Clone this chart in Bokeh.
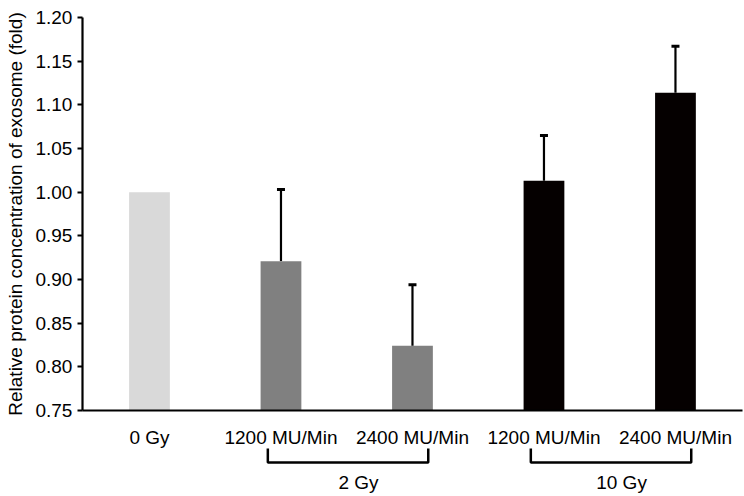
import math
from bokeh.plotting import figure
from bokeh.models import (Range1d, FixedTicker, Whisker, TeeHead, ColumnDataSource,
                          NumeralTickFormatter)
from bokeh.core.properties import value
from bokeh.embed import file_html
from bokeh.resources import INLINE

# ---- data ----
categories = ["0 Gy", "1200 MU/Min", "2400 MU/Min", "1200 MU/Min", "2400 MU/Min"]
means = [1.000, 0.921, 0.824, 1.013, 1.114]
errors = [0.0, 0.082, 0.070, 0.052, 0.053]
bar_colors = ["#d9d9d9", "#808080", "#808080", "#050000", "#050000"]
group_names = ["2 Gy", "10 Gy"]
group_members = [[1, 2], [3, 4]]
y_ticks = [0.75, 0.80, 0.85, 0.90, 0.95, 1.00, 1.05, 1.10, 1.15, 1.20]
y_label = "Relative protein concentration of exosome (fold)"

FONT = "Liberation Sans"
BASE = y_ticks[0]
TOP = y_ticks[-1]
X_LEFT, X_RIGHT = -0.51, len(categories) - 0.49

idx = list(range(len(categories)))

p = figure(width=744, height=496, output_backend="svg", toolbar_location=None,
           x_range=Range1d(-1.133, 4.525),
           y_range=Range1d(0.6515, 1.2195),
           min_border_left=0, min_border_right=0, min_border_top=0, min_border_bottom=0)
p.outline_line_color = None
p.grid.visible = False
p.background_fill_color = "white"

# bars
src = ColumnDataSource(dict(x=idx, top=means, color=bar_colors))
p.vbar(x="x", top="top", bottom=BASE, width=0.31, fill_color="color", line_color=None, source=src)

# error bars (upper only)
ex = [i for i, e in zip(idx, errors) if e > 0]
esrc = ColumnDataSource(dict(x=ex,
                             lower=[means[i] for i in ex],
                             upper=[means[i] + errors[i] for i in ex]))
w = Whisker(base="x", lower="lower", upper="upper", source=esrc, dimension="height",
            line_color="black", line_width=2.2,
            upper_head=TeeHead(size=8, line_width=3, line_color="black"), lower_head=None)
p.add_layout(w)

# y axis, fixed at the left end of the x axis
ya = p.yaxis[0]
ya.fixed_location = X_LEFT
ya.bounds = (BASE, TOP)
ya.ticker = FixedTicker(ticks=y_ticks)
ya.formatter = NumeralTickFormatter(format="0.00")
ya.axis_line_width = 2.2
ya.major_tick_line_width = 2
ya.major_tick_out = 5
ya.major_tick_in = 0
ya.minor_tick_line_color = None
ya.major_label_text_font = FONT
ya.major_label_text_font_size = "19px"
ya.major_label_text_color = "black"
ya.major_label_standoff = 5

# y axis title, centred on the axis bounds
p.text(x=[X_LEFT], y=[(BASE + TOP) / 2], text=[y_label], x_offset=-67, angle=math.pi / 2,
       text_align="center", text_baseline="middle", text_font=value(FONT),
       text_font_size="19px", text_color="black")

# x axis at the base value
xa = p.xaxis[0]
xa.fixed_location = BASE
xa.bounds = (X_LEFT, X_RIGHT)
xa.ticker = FixedTicker(ticks=idx)
xa.major_label_overrides = {i: c for i, c in zip(idx, categories)}
xa.axis_line_width = 2.2
xa.major_tick_line_color = None
xa.major_tick_out = 0
xa.major_tick_in = 0
xa.minor_tick_line_color = None
xa.major_label_text_font = FONT
xa.major_label_text_font_size = "19px"
xa.major_label_text_color = "black"
xa.major_label_standoff = 17

# group brackets
b_top, b_bot = BASE - 0.0435, BASE - 0.0595
xs, ys, lx = [], [], []
for m in group_members:
    x0, x1 = min(m) - 0.10, max(m) + 0.12
    xs.append([x0, x0, x1, x1])
    ys.append([b_top, b_bot, b_bot, b_top])
    lx.append((x0 + x1) / 2 + 0.08)
p.multi_line(xs=xs, ys=ys, line_color="black", line_width=2.5)
p.text(x=lx, y=[BASE - 0.083] * len(lx), text=group_names, text_align="center",
       text_baseline="middle", text_font=value(FONT), text_font_size="19px", text_color="black")

open("out.html", "w").write(file_html(p, INLINE))
